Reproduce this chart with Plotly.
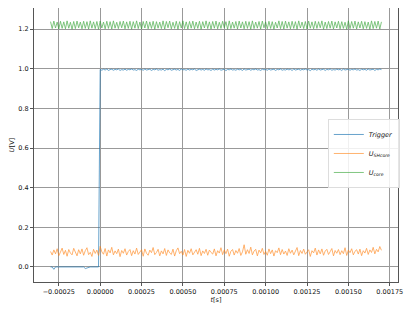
import numpy as np
import plotly.graph_objects as go

# sample grid of the scope capture
t_start = -0.0003
dt = 1e-5
n_samples = 201

trigger = [0.0, 0.0, -0.012, 0.0, 0.0, 0.0, 0.0, 0.0, 0.0, 0.0,
           0.0, 0.0, 0.0, 0.0, 0.0, 0.0, 0.0, 0.0, 0.0, 0.0,
           0.0, -0.008, -0.004, 0.0, 0.0, 0.0, 0.0, 0.0, 0.0, 0.0,
           0.997, 0.993, 0.998, 0.994, 0.999, 0.992, 0.996, 0.998, 0.993, 0.997,
           0.995, 0.999, 0.992, 0.996, 0.994, 0.998, 0.993, 0.997, 0.995, 0.999,
           0.994, 0.996, 0.992, 0.998, 0.995, 0.997, 0.993, 0.999, 0.994, 0.996,
           0.998, 0.992, 0.997, 0.995, 0.999, 0.993, 0.996, 0.994, 0.998, 0.991,
           0.997, 0.995, 0.999, 0.993, 0.996, 0.998, 0.994, 0.997, 0.992, 0.999,
           0.995, 0.996, 0.993, 0.998, 0.994, 0.997, 0.995, 0.999, 0.992, 0.996,
           0.998, 0.994, 0.997, 0.993, 0.999, 0.995, 0.996, 0.992, 0.998, 0.994,
           0.997, 0.995, 0.999, 0.993, 0.996, 0.998, 0.991, 0.997, 0.995, 0.999,
           0.994, 0.996, 0.993, 0.998, 0.995, 0.997, 0.992, 0.999, 0.994, 0.996,
           0.998, 0.993, 0.997, 0.995, 0.999, 0.994, 0.996, 0.992, 0.998, 0.995,
           0.997, 0.993, 0.999, 0.994, 0.996, 0.998, 0.992, 0.997, 0.995, 0.999,
           0.993, 0.996, 0.994, 0.998, 0.995, 0.997, 0.992, 0.999, 0.994, 0.996,
           0.998, 0.993, 0.997, 0.995, 0.999, 0.994, 0.996, 0.991, 0.998, 0.995,
           0.997, 0.993, 0.999, 0.994, 0.996, 0.998, 0.992, 0.997, 0.995, 0.999,
           0.993, 0.996, 0.994, 0.998, 0.995, 0.997, 0.992, 0.999, 0.994, 0.996,
           0.998, 0.993, 0.997, 0.995, 0.999, 0.994, 0.996, 0.992, 0.998, 0.995,
           0.997, 0.993, 0.999, 0.994, 0.996, 0.998, 0.992, 0.997, 0.995, 0.999,
           0.996]

u_shcore = [0.078, 0.060, 0.086, 0.066, 0.092, 0.057, 0.075, 0.095, 0.063, 0.084,
            0.054, 0.088, 0.070, 0.061, 0.094, 0.077, 0.056, 0.087, 0.066, 0.091,
            0.059, 0.082, 0.097, 0.062, 0.074, 0.053, 0.089, 0.068, 0.085, 0.058,
            0.104, 0.076, 0.064, 0.093, 0.055, 0.086, 0.071, 0.099, 0.061, 0.081,
            0.067, 0.090, 0.052, 0.083, 0.069, 0.092, 0.060, 0.078, 0.088, 0.057,
            0.082, 0.065, 0.095, 0.063, 0.075, 0.087, 0.054, 0.091, 0.069, 0.059,
            0.085, 0.072, 0.098, 0.062, 0.073, 0.089, 0.056, 0.081, 0.066, 0.093,
            0.058, 0.086, 0.071, 0.063, 0.090, 0.055, 0.082, 0.096, 0.067, 0.079,
            0.060, 0.088, 0.053, 0.084, 0.069, 0.092, 0.061, 0.076, 0.087, 0.064,
            0.094, 0.057, 0.081, 0.068, 0.089, 0.059, 0.085, 0.073, 0.065, 0.091,
            0.056, 0.082, 0.070, 0.097, 0.062, 0.086, 0.067, 0.090, 0.054, 0.079,
            0.088, 0.060, 0.083, 0.069, 0.093, 0.058, 0.076, 0.112, 0.064, 0.087,
            0.068, 0.100, 0.061, 0.080, 0.089, 0.056, 0.085, 0.071, 0.094, 0.063,
            0.079, 0.059, 0.091, 0.067, 0.086, 0.055, 0.082, 0.072, 0.096, 0.062,
            0.088, 0.065, 0.080, 0.058, 0.092, 0.069, 0.085, 0.061, 0.076, 0.098,
            0.057, 0.083, 0.068, 0.090, 0.064, 0.078, 0.087, 0.053, 0.082, 0.071,
            0.095, 0.060, 0.086, 0.066, 0.091, 0.059, 0.080, 0.089, 0.063, 0.077,
            0.093, 0.056, 0.083, 0.069, 0.088, 0.062, 0.082, 0.067, 0.097, 0.058,
            0.085, 0.072, 0.092, 0.061, 0.079, 0.087, 0.065, 0.090, 0.057, 0.082,
            0.070, 0.094, 0.063, 0.086, 0.073, 0.099, 0.066, 0.089, 0.076, 0.103,
            0.084]

u_core = [1.238, 1.203, 1.241, 1.206, 1.236, 1.201, 1.240, 1.204, 1.237, 1.202,
          1.242, 1.205, 1.235, 1.200, 1.239, 1.203, 1.241, 1.207, 1.236, 1.202,
          1.240, 1.204, 1.238, 1.201, 1.242, 1.205, 1.237, 1.203, 1.239, 1.200,
          1.241, 1.206, 1.236, 1.202, 1.240, 1.204, 1.238, 1.201, 1.242, 1.205,
          1.235, 1.203, 1.239, 1.207, 1.241, 1.202, 1.237, 1.204, 1.240, 1.200,
          1.238, 1.205, 1.242, 1.203, 1.236, 1.201, 1.239, 1.206, 1.241, 1.202,
          1.237, 1.204, 1.240, 1.200, 1.238, 1.205, 1.236, 1.203, 1.242, 1.201,
          1.239, 1.207, 1.241, 1.202, 1.235, 1.204, 1.240, 1.200, 1.238, 1.206,
          1.242, 1.203, 1.237, 1.201, 1.239, 1.205, 1.241, 1.202, 1.236, 1.204,
          1.240, 1.200, 1.238, 1.206, 1.242, 1.203, 1.237, 1.201, 1.239, 1.205,
          1.241, 1.202, 1.235, 1.204, 1.240, 1.207, 1.238, 1.200, 1.242, 1.203,
          1.236, 1.205, 1.239, 1.201, 1.241, 1.206, 1.237, 1.202, 1.240, 1.204,
          1.238, 1.200, 1.242, 1.203, 1.236, 1.205, 1.239, 1.201, 1.241, 1.207,
          1.237, 1.202, 1.240, 1.204, 1.238, 1.200, 1.235, 1.206, 1.242, 1.203,
          1.239, 1.201, 1.241, 1.205, 1.237, 1.202, 1.240, 1.204, 1.238, 1.200,
          1.242, 1.206, 1.236, 1.203, 1.239, 1.201, 1.241, 1.205, 1.237, 1.202,
          1.240, 1.204, 1.238, 1.207, 1.242, 1.200, 1.236, 1.203, 1.239, 1.205,
          1.241, 1.201, 1.237, 1.206, 1.240, 1.202, 1.238, 1.204, 1.235, 1.200,
          1.242, 1.203, 1.239, 1.205, 1.241, 1.201, 1.237, 1.206, 1.240, 1.202,
          1.238, 1.204, 1.236, 1.200, 1.242, 1.203, 1.239, 1.205, 1.241, 1.201,
          1.237]

x_ticks = [-0.00025, 0.0, 0.00025, 0.0005, 0.00075, 0.001, 0.00125, 0.0015, 0.00175]
x_labels = ["\u22120.00025", "0.00000", "0.00025", "0.00050", "0.00075",
            "0.00100", "0.00125", "0.00150", "0.00175"]
y_ticks = [0.0, 0.2, 0.4, 0.6, 0.8, 1.0, 1.2]

t = t_start + dt * np.arange(n_samples)

fig = go.Figure()
fig.add_trace(go.Scatter(x=t, y=trigger, mode="lines", name="<i>Trigger</i>",
                         line=dict(color="#1f77b4", width=0.8), opacity=0.85))
fig.add_trace(go.Scatter(x=t, y=u_shcore, mode="lines", name="<i>U<sub>SHcore</sub></i>",
                         line=dict(color="#ff7f0e", width=0.8), opacity=0.75))
fig.add_trace(go.Scatter(x=t, y=u_core, mode="lines", name="<i>U<sub>core</sub></i>",
                         line=dict(color="#2ca02c", width=0.8), opacity=0.75))

axis_common = dict(showgrid=True, gridcolor="#999999", gridwidth=1,
                   showline=True, linecolor="#555555", linewidth=1, mirror=True,
                   ticks="outside", ticklen=3, tickcolor="#555555",
                   zeroline=False, automargin=False,
                   tickfont=dict(size=6.5, color="#111111"))

fig.update_xaxes(range=[-0.0004, 0.0018], tickvals=x_ticks, ticktext=x_labels,
                 title=dict(text="<i>t</i>[s]", font=dict(size=6.5, color="#111111"), standoff=2),
                 **axis_common)
fig.update_yaxes(range=[-0.076, 1.307], tickvals=y_ticks, tickformat=".1f",
                 title=dict(text="<i>U</i>[V]", font=dict(size=6.5, color="#111111"), standoff=4),
                 **axis_common)

# page body adds an 8px offset, so the figure is sized and margined to suit
fig.update_layout(
    width=407, height=304,
    margin=dict(l=26, r=17, t=0, b=30, autoexpand=False),
    paper_bgcolor="white", plot_bgcolor="white",
    font=dict(family="DejaVu Sans", size=6.5, color="#111111"),
    legend=dict(x=1.005, y=0.595, xanchor="right", yanchor="top",
                bgcolor="rgba(255,255,255,0.85)", bordercolor="#dddddd", borderwidth=1,
                font=dict(size=6.5), itemwidth=30, tracegroupgap=0),
)

fig.write_html("out.html")
